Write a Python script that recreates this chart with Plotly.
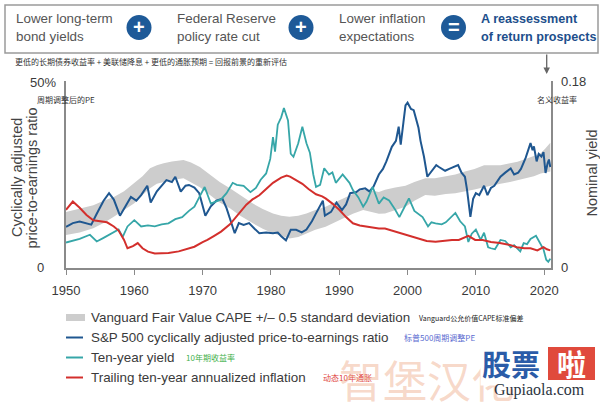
import plotly.graph_objects as go

# ---------------- data ----------------
cape_years = [1950.0, 1951.0, 1952.0, 1953.0, 1953.7, 1954.5, 1955.5, 1956.3, 1957.0, 1957.9, 1958.8, 1959.5,
              1960.3, 1961.0, 1961.9, 1962.4, 1963.3, 1964.0, 1964.7, 1965.5, 1966.0, 1966.8, 1967.5, 1968.0,
              1968.8, 1969.5, 1970.4, 1971.2, 1972.0, 1972.9, 1973.5, 1974.7, 1975.3, 1976.0, 1976.8, 1977.6,
              1978.3, 1979.3, 1980.3, 1981.0, 1981.5, 1982.2, 1982.9, 1983.7, 1984.5, 1985.2, 1986.0, 1986.6,
              1987.6, 1987.9, 1988.8, 1989.6, 1990.4, 1991.0, 1991.6, 1992.5, 1993.0, 1993.8, 1994.4, 1995.0,
              1995.8, 1996.4, 1996.9, 1997.7, 1998.3, 1998.7, 1999.0, 1999.4, 1999.7, 2000.0, 2000.5, 2000.9,
              2001.6, 2001.9, 2002.4, 2002.9, 2003.6, 2004.2, 2004.6, 2005.5, 2006.1, 2006.8, 2007.4, 2007.9,
              2008.4, 2008.7, 2009.0, 2009.2, 2009.6, 2010.0, 2010.5, 2011.2, 2011.7, 2012.2, 2012.7, 2013.6,
              2014.3, 2015.1, 2015.6, 2016.2, 2016.6, 2017.3, 2018.0, 2018.3, 2018.5, 2018.9, 2019.2, 2019.6,
              2019.9, 2020.2, 2020.5, 2020.7, 2020.9]
cape_values = [11.0, 12.0, 12.4, 12.0, 11.6, 14.5, 18.0, 20.0, 18.3, 14.0, 17.0, 19.0,
               18.0, 19.5, 22.0, 17.5, 20.5, 22.0, 23.5, 23.0, 24.4, 20.4, 22.0, 22.2,
               21.5, 20.0, 14.0, 16.5, 18.0, 18.5, 16.0, 9.3, 12.0, 11.5, 12.0, 10.5,
               9.3, 9.5, 9.3, 9.5, 8.5, 7.4, 10.2, 10.2, 9.5, 10.3, 12.5, 14.6,
               18.0, 14.0, 15.0, 17.5, 15.5, 17.0, 20.0, 20.3, 21.0, 21.3, 20.5, 21.7,
               25.0, 26.5, 28.5, 32.4, 34.0, 37.8, 33.0, 39.0, 43.5, 44.2, 42.5, 42.2,
               37.5, 34.0, 29.8, 24.4, 26.0, 27.5, 27.0, 26.0, 26.5, 27.0, 27.5, 25.5,
               24.4, 21.0, 17.4, 13.7, 18.5, 20.0, 19.5, 22.0, 19.5, 21.4, 22.0, 24.4,
               25.5, 26.6, 25.0, 25.5, 26.5, 29.5, 33.4, 31.5, 32.5, 28.5, 30.5, 29.8,
               31.0, 25.4, 28.0, 29.0, 27.0]

yield_years = [1950.0, 1951.0, 1952.0, 1953.5, 1954.5, 1955.5, 1956.5, 1957.7, 1958.3, 1959.0, 1960.0, 1961.0,
               1962.0, 1963.0, 1964.0, 1965.0, 1966.0, 1967.0, 1968.0, 1968.8, 1969.5, 1970.3, 1971.2, 1972.0,
               1972.7, 1973.5, 1974.4, 1975.0, 1976.0, 1977.0, 1977.8, 1978.5, 1979.3, 1979.9, 1980.3, 1980.6,
               1981.0, 1981.5, 1981.9, 1982.5, 1982.9, 1983.3, 1984.0, 1984.6, 1985.2, 1985.7, 1986.2, 1986.6,
               1987.2, 1987.8, 1988.5, 1989.0, 1989.5, 1990.5, 1991.5, 1992.0, 1992.8, 1993.5, 1994.0, 1994.9,
               1995.8, 1996.5, 1997.3, 1998.2, 1998.8, 1999.5, 2000.2, 2001.0, 2001.8, 2002.2, 2003.0, 2003.5,
               2004.1, 2005.0, 2005.6, 2006.5, 2007.0, 2007.7, 2008.4, 2008.9, 2009.4, 2010.0, 2010.7, 2011.2,
               2011.8, 2012.2, 2012.8, 2013.6, 2014.3, 2015.1, 2015.6, 2016.5, 2017.0, 2017.5, 2018.0, 2018.8,
               2019.3, 2019.9, 2020.3, 2020.6, 2020.9]
yield_values = [0.0245, 0.026, 0.028, 0.032, 0.0255, 0.029, 0.033, 0.037, 0.030, 0.040, 0.046, 0.040,
                0.041, 0.040, 0.042, 0.043, 0.047, 0.049, 0.055, 0.059, 0.068, 0.078, 0.062, 0.064,
                0.066, 0.072, 0.082, 0.080, 0.079, 0.073, 0.077, 0.085, 0.091, 0.105, 0.126, 0.112,
                0.138, 0.145, 0.154, 0.142, 0.110, 0.107, 0.120, 0.136, 0.120, 0.111, 0.090, 0.078,
                0.080, 0.096, 0.090, 0.092, 0.082, 0.090, 0.082, 0.075, 0.068, 0.059, 0.064, 0.078,
                0.062, 0.068, 0.065, 0.056, 0.049, 0.058, 0.067, 0.055, 0.051, 0.049, 0.040, 0.044,
                0.043, 0.042, 0.044, 0.050, 0.053, 0.045, 0.040, 0.025, 0.033, 0.037, 0.027, 0.034,
                0.020, 0.019, 0.018, 0.027, 0.026, 0.020, 0.022, 0.016, 0.024, 0.023, 0.028, 0.031,
                0.025, 0.018, 0.008, 0.006, 0.009]

infl_years = [1950.0, 1951.0, 1952.0, 1953.0, 1954.0, 1955.0, 1956.0, 1957.0, 1957.7, 1958.5, 1959.0, 1959.8,
              1960.5, 1961.2, 1962.0, 1963.0, 1964.0, 1965.0, 1966.5, 1967.5, 1968.8, 1970.0, 1970.7, 1971.7,
              1972.7, 1974.0, 1975.0, 1976.4, 1977.3, 1978.3, 1979.3, 1980.3, 1981.5, 1982.3, 1982.8, 1983.5,
              1984.6, 1985.5, 1986.6, 1987.5, 1988.0, 1989.0, 1990.0, 1991.0, 1992.0, 1993.0, 1993.9, 1995.0,
              1995.8, 1996.7, 1997.7, 1999.1, 2000.3, 2001.6, 2002.8, 2004.1, 2005.0, 2006.5, 2007.5, 2008.5,
              2008.9, 2009.9, 2011.0, 2012.2, 2013.5, 2015.1, 2016.0, 2017.1, 2018.0, 2019.0, 2019.5, 2019.9,
              2020.4, 2020.9]
infl_values = [0.056, 0.064, 0.058, 0.051, 0.046, 0.045, 0.044, 0.040, 0.036, 0.027, 0.019, 0.021,
               0.024, 0.019, 0.0157, 0.014, 0.014, 0.0145, 0.016, 0.018, 0.0205, 0.025, 0.027, 0.031,
               0.035, 0.042, 0.050, 0.061, 0.066, 0.070, 0.076, 0.082, 0.087, 0.089, 0.088, 0.085,
               0.081, 0.076, 0.071, 0.069, 0.067, 0.062, 0.056, 0.049, 0.043, 0.041, 0.040, 0.039,
               0.038, 0.038, 0.036, 0.0334, 0.031, 0.0286, 0.026, 0.0253, 0.026, 0.027, 0.027, 0.030,
               0.031, 0.027, 0.027, 0.025, 0.024, 0.022, 0.020, 0.019, 0.019, 0.017, 0.019, 0.020,
               0.018, 0.017]

band_years = [1950, 1952, 1954, 1955.5, 1957, 1958.5, 1960, 1961.2, 1962.3, 1963.3, 1964.3, 1965.5,
              1967.2, 1968.3, 1969.6, 1970.5, 1971.5, 1972.5, 1974.0, 1975.5, 1977.3, 1978.8, 1980.3, 1981.5,
              1982.7, 1984.0, 1985.2, 1986.5, 1988.0, 1989.3, 1990.5, 1992.0, 1993.5, 1994.7, 1995.8, 1996.7,
              1998.2, 1999.7, 2001.0, 2002.6, 2004.0, 2005.6, 2007.0, 2008.4, 2009.8, 2011.2, 2012.5, 2013.6,
              2015.0, 2016.1, 2017.5, 2018.5, 2019.5, 2020.2, 2020.9]
band_upper = [15.0, 16.0, 16.8, 18.0, 19.0, 20.5, 22.6, 24.5, 26.7, 27.5, 28.0, 28.5,
              28.9, 28.2, 27.0, 25.8, 24.5, 23.0, 21.3, 19.5, 17.3, 15.8, 14.6, 14.0,
              13.7, 14.0, 14.6, 15.5, 16.4, 17.5, 18.6, 19.8, 20.9, 20.7, 20.3, 20.9,
              21.5, 22.0, 23.0, 24.0, 24.0, 24.5, 25.0, 25.8, 26.5, 27.5, 27.5, 27.5,
              28.0, 28.4, 29.3, 30.0, 30.7, 32.0, 33.5]
band_lower = [8.8, 9.5, 10.6, 12.0, 13.7, 15.5, 17.3, 19.5, 21.3, 22.5, 23.0, 23.5,
              24.0, 23.0, 21.6, 20.3, 19.0, 17.5, 16.0, 14.0, 12.0, 10.5, 9.3, 8.5,
              7.9, 8.3, 9.3, 10.2, 11.0, 12.2, 13.2, 14.5, 15.5, 15.0, 14.5, 14.6,
              15.5, 16.4, 18.0, 19.5, 19.3, 19.8, 20.0, 20.4, 21.0, 21.6, 22.0, 22.5,
              23.0, 23.5, 24.0, 24.5, 25.3, 25.5, 25.8]

decade_ticks = [1950, 1960, 1970, 1980, 1990, 2000, 2010, 2020]

legend_labels = ["Vanguard Fair Value CAPE +/\u2013 0.5 standard deviation",
                 "S&P 500 cyclically adjusted price-to-earnings ratio",
                 "Ten-year yield",
                 "Trailing ten-year annualized inflation"]
legend_cn = ["Vanguard\u516c\u5141\u4ef7\u503cCAPE\u6807\u51c6\u504f\u5dee",
             "\u6807\u666e500\u5468\u671f\u8c03\u6574PE",
             "10\u5e74\u671f\u6536\u76ca\u7387",
             "\u52a8\u600110\u5e74\u901a\u80c0"]

# ---------------- style ----------------
W, H = 600, 402
L, R, T, B = 66, 551, 81, 268
BLUE = "#1f5790"
TEAL = "#36a6a8"
RED = "#d32f2c"
GREY = "#cdcdcd"
AX = "#8a8a8a"
TXT = "#3a3a3a"
FONT = "Liberation Sans, Arial, Helvetica, sans-serif"
CJK = "Noto Sans CJK SC, sans-serif"


def px(x):
    return (x - L) / (R - L)


def py(y):
    return (B - y) / (B - T)


fig = go.Figure()
fig.add_trace(go.Scatter(x=band_years, y=band_upper, mode="lines", line=dict(width=0, color=GREY),
                         hoverinfo="skip", showlegend=False))
fig.add_trace(go.Scatter(x=band_years, y=band_lower, mode="lines", line=dict(width=0, color=GREY),
                         fill="tonexty", fillcolor=GREY, hoverinfo="skip", showlegend=False))
fig.add_trace(go.Scatter(x=yield_years, y=yield_values, mode="lines", yaxis="y2",
                         line=dict(color=TEAL, width=1.8), showlegend=False))
fig.add_trace(go.Scatter(x=infl_years, y=infl_values, mode="lines", yaxis="y2",
                         line=dict(color=RED, width=2), showlegend=False))
fig.add_trace(go.Scatter(x=cape_years, y=cape_values, mode="lines",
                         line=dict(color=BLUE, width=2), showlegend=False))

ann = []
shapes = []


def text(x, y, s, size, color=TXT, family=FONT, xanchor="left", yanchor="middle", angle=0, bold=False, **kw):
    if bold:
        s = "<b>" + s + "</b>"
    d = dict(x=px(x), y=py(y), xref="paper", yref="paper", text=s, showarrow=False,
             xanchor=xanchor, yanchor=yanchor, textangle=angle,
             font=dict(size=size, color=color, family=family))
    d.update(kw)
    ann.append(d)


# top banner box
shapes.append(dict(type="rect", xref="paper", yref="paper", x0=px(5), x1=px(598), y0=py(5), y1=py(53),
                   line=dict(color="#9a9a9a", width=1.5), fillcolor="white", layer="below"))
box_lines = [(14, "Lower long-term", "bond yields", False),
             (175, "Federal Reserve", "policy rate cut", False),
             (337, "Lower inflation", "expectations", False),
             (479, "A reassessment", "of return prospects", True)]
for x, a, b, bold in box_lines:
    col = "#1d4f8c" if bold else "#555555"
    size = 12.6 if bold else 13.4
    text(x, 18.5, a, size, col, FONT, bold=bold)
    text(x, 37, b, size, col, FONT, bold=bold)
for cx, sym in [(139, "+"), (301, "+"), (453.5, "=")]:
    r = 12.5
    shapes.append(dict(type="circle", xref="paper", yref="paper", x0=px(cx - r), x1=px(cx + r),
                       y0=py(27.5 + r), y1=py(27.5 - r), fillcolor="#1e5a98", line=dict(width=0)))
    text(cx, 27.5, sym, 20, "white", FONT, xanchor="center", bold=True)

text(13, 61, "\u66f4\u4f4e\u7684\u957f\u671f\u503a\u5238\u6536\u76ca\u7387 + \u7f8e\u8054\u50a8\u964d\u606f + "
     "\u66f4\u4f4e\u7684\u901a\u80c0\u9884\u671f = \u56de\u62a5\u524d\u666f\u7684\u91cd\u65b0\u8bc4\u4f30",
     8, "#333333", CJK)

# arrow from box to right axis
ann.append(dict(x=px(546.7), y=py(74), xref="paper", yref="paper", text="", showarrow=True,
                ax=0, ay=-21, arrowhead=2, arrowsize=1, arrowwidth=1.3, arrowcolor="#666666"))

# axis labels
text(58, 82, "50%", 13, TXT, FONT, xanchor="right")
text(46, 267, "0", 13, TXT, FONT, xanchor="right")
text(559, 81, "0.18", 13, TXT, FONT)
text(559, 267, "0", 13, TXT, FONT)
text(35, 99, "\u5468\u671f\u8c03\u6574\u540e\u7684PE", 8, "#333333", CJK)
text(557, 99, "\u540d\u4e49\u6536\u76ca\u7387", 8, "#333333", CJK, xanchor="center")
text(17, 178, "Cyclically adjusted", 14.5, "#444444", FONT, xanchor="center", angle=-90)
text(31.5, 178, "price-to-earnings ratio", 14.5, "#444444", FONT, xanchor="center", angle=-90)
text(591.5, 173, "Nominal yield", 14.5, "#444444", FONT, xanchor="center", angle=-90)

# legend (drawn manually)
rows = [317.5, 337.5, 357.5, 377.5]
shapes.append(dict(type="rect", xref="paper", yref="paper", x0=px(66), x1=px(85), y0=py(rows[0] + 3.5),
                   y1=py(rows[0] - 3.5), fillcolor=GREY, line=dict(width=0)))
for yy, col in zip(rows[1:], [BLUE, TEAL, RED]):
    shapes.append(dict(type="line", xref="paper", yref="paper", x0=px(66), x1=px(83), y0=py(yy), y1=py(yy),
                       line=dict(color=col, width=2)))
for yy, s in zip(rows, legend_labels):
    text(89, yy, s, 13.4, TXT, FONT)
cn_pos = [(417, "#222222", 7), (402, "#5b6bd0", 8), (184, "#3fb04a", 8), (321, "#e0443c", 8)]
for yy, s, (x, col, sz) in zip(rows, legend_cn, cn_pos):
    text(x, yy, s, sz, col, CJK)

# watermark
text(337, 379, "\u667a\u5821\u6c49\u5316", 44, "rgba(238,170,135,0.45)", CJK)
shapes.append(dict(type="rect", xref="paper", yref="paper", x0=px(548), x1=px(595), y0=py(380), y1=py(347),
                   fillcolor="#e04a3c", line=dict(width=0)))
text(511, 362.5, "\u80a1\u7968", 29, "#2b5ca8", CJK, xanchor="center", bold=True, bgcolor="white")
text(571.5, 363, "\u5566", 29, "white", CJK, xanchor="center", bold=True)
text(539, 390, "Gupiaola.com", 16, "#2c3440", "Liberation Serif, DejaVu Serif, serif", xanchor="center")

fig.update_layout(
    width=W, height=H, autosize=False,
    margin=dict(l=L, r=W - R, t=T, b=H - B),
    paper_bgcolor="white", plot_bgcolor="white",
    showlegend=False,
    xaxis=dict(range=[1950, 2021], tickvals=decade_ticks, ticks="outside", ticklen=5, tickwidth=1.3,
               tickcolor=AX, showline=True, linecolor=AX, linewidth=1.5, showgrid=False, zeroline=False,
               tickfont=dict(size=13, color=TXT, family=FONT), ticklabelstandoff=5, fixedrange=True),
    yaxis=dict(range=[0, 50], showline=True, linecolor=AX, linewidth=1.5, showgrid=False, zeroline=False,
               showticklabels=False, ticks=""),
    yaxis2=dict(range=[0, 0.18], overlaying="y", side="right", showline=True, linecolor=AX, linewidth=1.5,
                showgrid=False, zeroline=False, showticklabels=False, ticks=""),
    annotations=ann, shapes=shapes,
)

fig.write_html("out.html", config={"displayModeBar": False},
               post_script="document.body.style.margin='0';")
